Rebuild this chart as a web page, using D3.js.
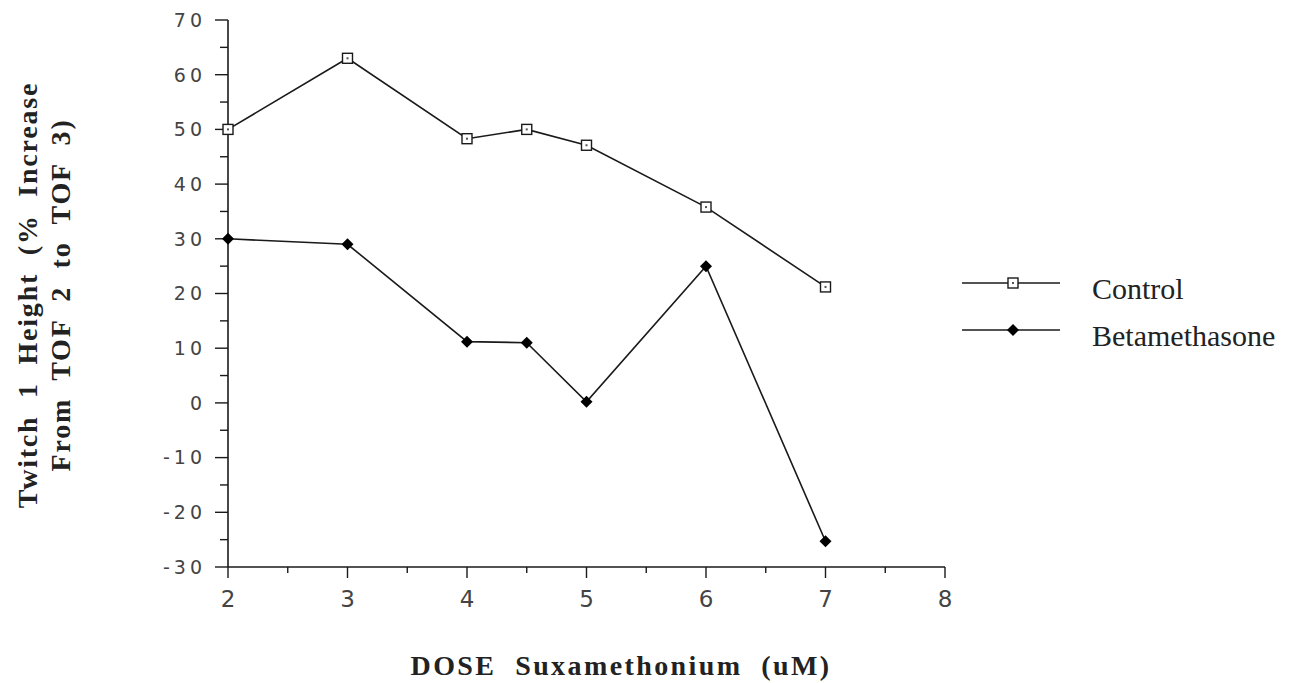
<!DOCTYPE html>
<html><head><meta charset="utf-8">
<script src="https://cdn.jsdelivr.net/npm/d3@7"></script>
<style>body{margin:0;background:#fff}svg{display:block}</style>
</head><body>
<svg id="c" width="1304" height="683"></svg>
<script>
const doses = [2, 3, 4, 4.5, 5, 6, 7];
const controlValues = [50, 63, 48.3, 50, 47.1, 35.8, 21.2];
const betaValues = [30, 29, 11.2, 11, 0.2, 25, -25.3];
const seriesNames = ["Control", "Betamethasone"];
const yTicks = [70, 60, 50, 40, 30, 20, 10, 0, -10, -20, -30];
const xTicks = [2, 3, 4, 5, 6, 7, 8];

const svg = d3.select("#c");
const x = d3.scaleLinear().domain([2, 8]).range([228, 945]);
const y = d3.scaleLinear().domain([-30, 70]).range([567, 20]);
const ink = "#1a1a1a";

// y axis
const yAxis = svg.append("g").attr("transform", "translate(228,0)");
yAxis.append("line").attr("x1", 0).attr("x2", 0).attr("y1", y(70)).attr("y2", y(-30)).attr("stroke", ink).attr("stroke-width", 1.6);
const yMinor = d3.range(-25, 70, 10);
yAxis.selectAll(".ymaj").data(yTicks).join("line").attr("x1", -13).attr("x2", 0).attr("y1", d => y(d)).attr("y2", d => y(d)).attr("stroke", ink).attr("stroke-width", 1.4);
yAxis.selectAll(".ymin").data(yMinor).join("line").attr("x1", -8).attr("x2", 0).attr("y1", d => y(d)).attr("y2", d => y(d)).attr("stroke", ink).attr("stroke-width", 1.4);
yAxis.selectAll("text").data(yTicks).join("text")
  .attr("x", -22).attr("y", d => y(d)).attr("dy", "0.36em").attr("text-anchor", "end")
  .attr("font-family", "DejaVu Sans, sans-serif").attr("font-size", 19).attr("letter-spacing", "4px").attr("fill", "#444")
  .text(d => String(d));

// x axis
const xAxis = svg.append("g").attr("transform", "translate(0,567)");
xAxis.append("line").attr("x1", x(2)).attr("x2", x(8)).attr("y1", 0).attr("y2", 0).attr("stroke", ink).attr("stroke-width", 1.6);
const xMinor = d3.range(2.5, 8, 1);
xAxis.selectAll(".xmaj").data(xTicks).join("line").attr("x1", d => x(d)).attr("x2", d => x(d)).attr("y1", 0).attr("y2", 11).attr("stroke", ink).attr("stroke-width", 1.4);
xAxis.selectAll(".xmin").data(xMinor).join("line").attr("x1", d => x(d)).attr("x2", d => x(d)).attr("y1", 0).attr("y2", 6).attr("stroke", ink).attr("stroke-width", 1.4);
xAxis.selectAll("text").data(xTicks).join("text")
  .attr("x", d => x(d)).attr("y", 40).attr("text-anchor", "middle")
  .attr("font-family", "DejaVu Sans, sans-serif").attr("font-size", 23).attr("fill", "#444")
  .text(d => d);

// lines
const line = d3.line().x(d => x(d[0])).y(d => y(d[1]));
const cData = doses.map((d, i) => [d, controlValues[i]]);
const bData = doses.map((d, i) => [d, betaValues[i]]);
svg.append("path").attr("d", line(cData)).attr("fill", "none").attr("stroke", ink).attr("stroke-width", 1.6);
svg.append("path").attr("d", line(bData)).attr("fill", "none").attr("stroke", ink).attr("stroke-width", 1.6);

function square(g, cx, cy) {
  g.append("rect").attr("x", cx - 5).attr("y", cy - 5).attr("width", 10).attr("height", 10).attr("fill", "#fff").attr("stroke", ink).attr("stroke-width", 1.4);
  g.append("rect").attr("x", cx - 1).attr("y", cy - 1).attr("width", 2).attr("height", 2).attr("fill", "#555");
}
function diamond(g, cx, cy) {
  g.append("path").attr("d", `M${cx},${cy - 6}L${cx + 6},${cy}L${cx},${cy + 6}L${cx - 6},${cy}Z`).attr("fill", "#000");
}
const mk = svg.append("g");
cData.forEach(d => square(mk, x(d[0]), y(d[1])));
bData.forEach(d => diamond(mk, x(d[0]), y(d[1])));

// legend
const leg = svg.append("g");
const legY = [283, 330];
legY.forEach((ly, i) => {
  leg.append("line").attr("x1", 962).attr("x2", 1060).attr("y1", ly).attr("y2", ly).attr("stroke", ink).attr("stroke-width", 1.6);
  if (i === 0) square(leg, 1013, ly); else diamond(leg, 1013, ly);
  leg.append("text").attr("x", 1092).attr("y", ly + 16).attr("font-family", "Liberation Serif, Times New Roman, serif").attr("font-size", 30).attr("fill", "#222").text(seriesNames[i]);
});

// titles
svg.append("text").attr("x", 621).attr("y", 675).attr("text-anchor", "middle")
  .attr("font-family", "Liberation Serif, Times New Roman, serif").attr("font-weight", "bold").attr("font-size", 28).attr("letter-spacing", "2.4px").attr("fill", "#222")
  .style("white-space", "pre")
  .text("DOSE  Suxamethonium  (uM)");
const yt = svg.append("text").attr("transform", "translate(0,295) rotate(-90)").attr("text-anchor", "middle")
  .attr("font-family", "Liberation Serif, Times New Roman, serif").attr("font-weight", "bold").attr("font-size", 28).attr("letter-spacing", "1.8px").attr("fill", "#222")
  .style("white-space", "pre");
yt.append("tspan").attr("x", 0).attr("y", 37).text("Twitch  1  Height  (%  Increase");
yt.append("tspan").attr("x", 0).attr("y", 70).text("From  TOF  2  to  TOF  3)");
</script>
</body></html>
